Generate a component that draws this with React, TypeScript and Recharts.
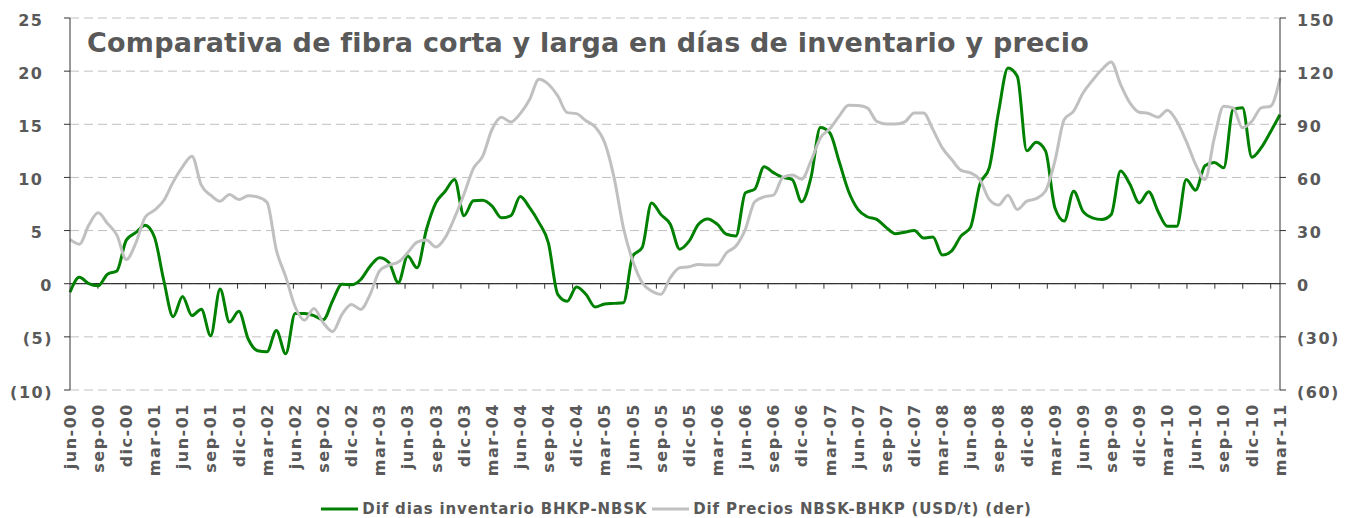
import * as React from "react"
import { ComposedChart, Line, XAxis, YAxis, CartesianGrid, ReferenceLine, Legend } from "recharts"

const MESES = ["ene", "feb", "mar", "abr", "may", "jun", "jul", "ago", "sep", "oct", "nov", "dic"]

// jun-00 .. mar-11, monthly
const categorias: string[] = []
for (let k = 0; k < 130; k++) {
    const m = 5 + k
    const yy = (2000 + Math.floor(m / 12)) % 100
    categorias.push(`${MESES[m % 12]}-${String(yy).padStart(2, "0")}`)
}

// Dif dias inventario BHKP-NBSK (eje izq.)
const difDias = [
    -0.8, 0.6, 0.0, -0.2, 0.9, 1.2, 4.1, 4.8, 5.5, 4.4,
    0.3, -3.1, -1.2, -3.0, -2.4, -4.9, -0.5, -3.6, -2.6, -5.2,
    -6.3, -6.4, -4.4, -6.6, -2.8, -2.8, -3.0, -3.4, -1.6, -0.05,
    -0.1, 0.4, 1.65, 2.45, 2.0, 0.1, 2.6, 1.5, 5.1, 7.6,
    8.7, 9.8, 6.4, 7.8, 7.85, 7.3, 6.2, 6.4, 8.2, 7.15,
    5.75, 3.85, -1.0, -1.65, -0.3, -1.0, -2.2, -1.9, -1.85, -1.8,
    2.6, 3.4, 7.6, 6.5, 5.6, 3.25, 4.0, 5.6, 6.1, 5.6,
    4.65, 4.5, 8.55, 8.9, 11.0, 10.45, 10.0, 9.8, 7.7, 10.0,
    14.7, 14.2, 11.5, 8.7, 7.0, 6.3, 6.05, 5.3, 4.7, 4.85,
    5.0, 4.3, 4.4, 2.7, 3.1, 4.5, 5.3, 9.35, 10.9, 16.2,
    20.3, 19.5, 12.5, 13.3, 12.5, 7.15, 5.9, 8.7, 6.8, 6.2,
    6.05, 6.5, 10.6, 9.35, 7.6, 8.65, 6.8, 5.4, 5.4, 9.8,
    8.8, 11.1, 11.4, 10.9, 16.4, 16.55, 11.9, 12.8, 14.3, 15.9,
]

// Dif Precios NBSK-BHKP (USD/t) (eje der.)
const difPrecios = [
    25, 22.3, 33, 40, 34, 27.4, 13.7, 22.7, 37.4, 41.5,
    47, 57.5, 66, 72, 55.6, 50, 46.6, 50.4, 47.5, 49.6,
    49, 46, 19, 3.9, -13, -20.6, -14, -22, -27, -17.3,
    -11.7, -14.5, -6, 7.2, 10.5, 12.2, 17.5, 23.5, 24.7, 20.7,
    26, 37.3, 50.5, 65, 72, 87.2, 94, 91.3, 96, 104,
    115.4, 112.6, 106, 96.6, 96, 92, 88.5, 79.7, 60, 31.6,
    12.8, 0.6, -4.1, -6, 3.4, 9, 9.6, 10.9, 10.5, 10.5,
    17.5, 21.3, 30.7, 46.3, 49, 50, 60, 61.4, 59, 69.3,
    82.3, 87.4, 94.6, 100.8, 100.6, 99.3, 91.7, 90.2, 90.2, 91.4,
    96.4, 96.4, 87, 76.7, 70.1, 64, 62.6, 58.8, 47.6, 44.4,
    50, 41.9, 46.6, 48, 52.3, 69.2, 92.7, 97.4, 107.7, 114.7,
    120.9, 125.2, 112.5, 102.1, 96.8, 96.1, 94, 97.9, 91.7, 80.5,
    67.4, 58.8, 82.3, 100.2, 99.3, 88, 91.7, 99.3, 100.2, 116,
]

const ticksIzq = [-10, -5, 0, 5, 10, 15, 20, 25]
const ticksDer = [-60, -30, 0, 30, 60, 90, 120, 150]

const titulo = "Comparativa de fibra corta y larga en días de inventario y precio"
const serieDias = "Dif dias inventario BHKP-NBSK"
const seriePrecios = "Dif Precios NBSK-BHKP (USD/t) (der)"

const data = categorias.map((mes, i) => ({ mes, dias: difDias[i], precios: difPrecios[i] }))

const GRIS = "#595959"
const FONT = "'DejaVu Sans', Verdana, sans-serif"
const VERDE = "#008000"
const GRIS_LINEA = "#c0c0c0"

const fmt = (v: number) => (v < 0 ? `(${-v})` : `${v}`)

const labelStyle = { fontFamily: FONT, fontWeight: 700, fontSize: 16, letterSpacing: 1.5, fill: GRIS }

const LeftTick = ({ x, y, payload }: any) => (
    <text x={payload.value > 0 ? x - 9.5 : x} y={y + 2} dy="0.35em" textAnchor="end" style={labelStyle}>
        {fmt(payload.value)}
    </text>
)

const RightTick = ({ x, y, payload }: any) => (
    <text x={x} y={y + 2} dy="0.35em" textAnchor="start" style={labelStyle}>
        {fmt(payload.value)}
    </text>
)

const XTick = ({ x, y, payload }: any) => (
    <g transform={`translate(${x},${y})`}>
        <text transform="rotate(-90)" x={0} y={0} dy="0.36em" textAnchor="end" style={labelStyle}>
            {payload.value}
        </text>
    </g>
)

// zero line with the category tick marks every 3 months
const ZeroLine = (props: any) => {
    const { x1, y1, x2, y2 } = props
    const n = categorias.length
    const marks = []
    for (let b = 3; b < n; b += 3) {
        const xx = x1 + ((x2 - x1) * b) / n
        marks.push(<line key={b} x1={xx} x2={xx} y1={y1} y2={y1 + 5} stroke="#333" strokeWidth={1} />)
    }
    return (
        <g>
            <line x1={x1} y1={y1} x2={x2} y2={y2} stroke="#333" strokeWidth={1.2} />
            {marks}
        </g>
    )
}

const LegendContent = () => (
    <div
        style={{
            display: "flex",
            justifyContent: "center",
            alignItems: "center",
            height: 18,
            fontFamily: FONT,
            fontWeight: 700,
            fontSize: 15,
            letterSpacing: 0.85,
            color: GRIS,
            whiteSpace: "nowrap",
        }}
    >
        <svg width={37} height={4} style={{ marginRight: 4 }}>
            <line x1={0} x2={37} y1={2} y2={2} stroke={VERDE} strokeWidth={3} />
        </svg>
        <span style={{ marginRight: 5 }}>{serieDias}</span>
        <svg width={37} height={4} style={{ marginRight: 4 }}>
            <line x1={0} x2={37} y1={2} y2={2} stroke={GRIS_LINEA} strokeWidth={3} />
        </svg>
        <span>{seriePrecios}</span>
    </div>
)

export default function App() {
    return (
        <div style={{ position: "absolute", left: 0, top: 0, background: "#fff" }}>
            <ComposedChart width={1353} height={518} data={data} margin={{ top: 18, right: 0, bottom: 0, left: 0 }}>
                <CartesianGrid yAxisId="izq" vertical={false} stroke="#c0c0c0" strokeDasharray="9 5" />
                <XAxis
                    dataKey="mes"
                    interval={2}
                    height={110}
                    axisLine={false}
                    tickLine={false}
                    tickSize={0}
                    tickMargin={13}
                    tick={<XTick />}
                />
                <YAxis
                    yAxisId="izq"
                    domain={[-10, 25]}
                    ticks={ticksIzq}
                    width={70}
                    axisLine={{ stroke: "#333" }}
                    tickLine={{ stroke: "#333" }}
                    tickSize={6}
                    tickMargin={11}
                    tick={<LeftTick />}
                    allowDataOverflow
                />
                <YAxis
                    yAxisId="der"
                    orientation="right"
                    domain={[-60, 150]}
                    ticks={ticksDer}
                    width={73}
                    axisLine={{ stroke: "#333" }}
                    tickLine={{ stroke: "#333" }}
                    tickSize={6}
                    tickMargin={11}
                    tick={<RightTick />}
                    allowDataOverflow
                />
                <ReferenceLine yAxisId="izq" y={0} shape={<ZeroLine />} />
                <Line
                    yAxisId="izq"
                    dataKey="dias"
                    name={serieDias}
                    type="monotone"
                    stroke={VERDE}
                    strokeWidth={3}
                    dot={false}
                    activeDot={false}
                    isAnimationActive={false}
                />
                <Line
                    yAxisId="der"
                    dataKey="precios"
                    name={seriePrecios}
                    type="monotone"
                    stroke={GRIS_LINEA}
                    strokeWidth={3}
                    dot={false}
                    activeDot={false}
                    isAnimationActive={false}
                />
                <Legend verticalAlign="bottom" content={<LegendContent />} />
                <text
                    x={87}
                    y={52}
                    style={{ fontFamily: FONT, fontWeight: 700, fontSize: 27, letterSpacing: 0.22, fill: GRIS }}
                >
                    {titulo}
                </text>
            </ComposedChart>
        </div>
    )
}
